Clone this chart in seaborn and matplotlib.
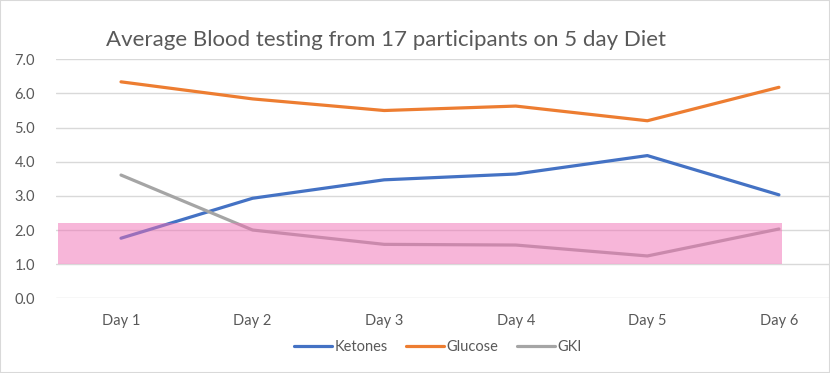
import matplotlib
matplotlib.use("Agg")
import matplotlib.pyplot as plt
import seaborn as sns
import pandas as pd
from matplotlib.patches import Rectangle

days = ["Day 1", "Day 2", "Day 3", "Day 4", "Day 5", "Day 6"]
ketones = [1.76, 2.93, 3.47, 3.64, 4.18, 3.03]
glucose = [6.34, 5.84, 5.50, 5.63, 5.20, 6.18]
gki = [3.61, 2.00, 1.58, 1.56, 1.24, 2.03]
series_names = ["Ketones", "Glucose", "GKI"]
colors = ["#4472C4", "#ED7D31", "#A5A5A5"]
band_low, band_high = 1.0, 2.2
band_x = [-0.48, 5.02]
title = "Average Blood testing from 17 participants on 5 day Diet"

sns.set_theme(style="white")
plt.rcParams["font.family"] = ["Lato", "DejaVu Sans"]

df = pd.DataFrame({
    "Day": days * 3,
    "x": list(range(len(days))) * 3,
    "Value": ketones + glucose + gki,
    "Series": [series_names[0]] * 6 + [series_names[1]] * 6 + [series_names[2]] * 6,
})

fig = plt.figure(figsize=(8.3, 3.73), dpi=100)
ax = fig.add_axes([56 / 830, 74.7 / 373, 1 - 56 / 830, 239 / 373])

sns.lineplot(data=df, x="x", y="Value", hue="Series", palette=colors,
             linewidth=2.3, ax=ax, solid_capstyle="round", zorder=3)

ax.fill_between(band_x, band_low, band_high, color="#F06EB4", alpha=0.5,
                linewidth=0, zorder=4)

ax.set_ylim(0, 7)
ax.set_xlim(-0.494, 5.388)
ax.set_yticks([0, 1, 2, 3, 4, 5, 6, 7])
ax.set_yticklabels([f"{v:.1f}" for v in range(8)])
ax.set_xticks(range(len(days)))
ax.set_xticklabels(days)
ax.tick_params(axis="both", length=0, labelsize=10.5, colors="#595959")
ax.tick_params(axis="y", pad=15)
ax.tick_params(axis="x", pad=11)
ax.grid(axis="y", color="#D9D9D9", linewidth=1.0, zorder=0)
ax.set_axisbelow(True)
for s in ax.spines.values():
    s.set_visible(False)
ax.set_xlabel("")
ax.set_ylabel("")

handles, labels = ax.get_legend_handles_labels()
if ax.legend_:
    ax.legend_.remove()
leg = fig.legend(handles, labels, loc="center", bbox_to_anchor=(438 / 830, 1 - 347 / 373),
                 ncol=3, frameon=False, fontsize=10.5, handlelength=2.6,
                 handletextpad=0.15, columnspacing=1.3)
for t in leg.get_texts():
    t.set_color("#595959")

fig.text(386 / 830, 1 - 40 / 373, title, ha="center", va="center",
         fontsize=16, color="#595959")

fig.patches.append(Rectangle((0, 0), 1, 1, transform=fig.transFigure, fill=False,
                             edgecolor="#D9D9D9", linewidth=1.5))

fig.savefig("out.png", dpi=100)
